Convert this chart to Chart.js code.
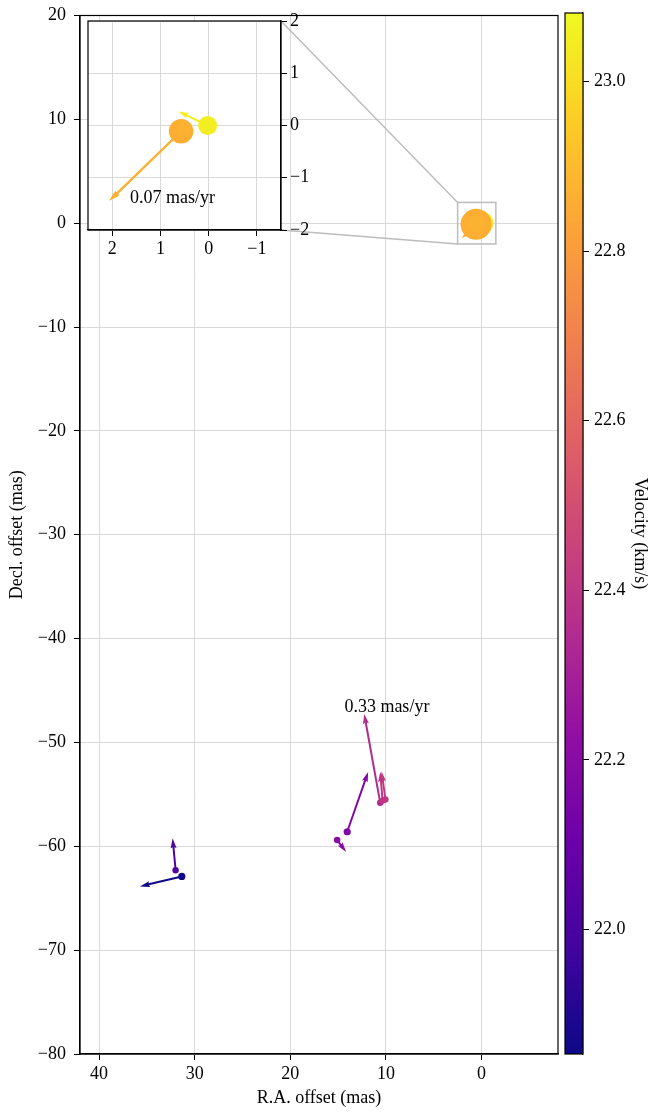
<!DOCTYPE html>
<html>
<head>
<meta charset="utf-8">
<script src="https://cdn.jsdelivr.net/npm/chart.js@4.4.1/dist/chart.umd.min.js"></script>
<style>
body { margin: 0; background: #fff; }
#wrap { position: relative; width: 651px; height: 1113px; }
canvas { position: absolute; left: 0; top: 0; }
</style>
</head>
<body>
<div id="wrap">
    <canvas id="main_chart" width="651" height="1113"></canvas>
    <canvas id="inset_chart" width="651" height="1113"></canvas>
    <canvas id="colorbar" width="651" height="1113"></canvas>
</div>
<script>
/* global Chart */

// maser spots: offsets (mas), velocity (km/s), proper motion arrow (mas on plot), spot radius (px)
const ra_offset = [31.35, 32.0, 14.05, 15.1, 10.6, 10.05, 10.35, 0.02, 0.57, 0.5];
const dec_offset = [-62.9, -62.3, -58.6, -59.4, -55.8, -55.5, -55.6, 0.0, -0.11, -0.05];
const velocity = [21.86, 22.02, 22.18, 22.2, 22.35, 22.41, 22.4, 23.05, 22.86, 22.87];
const arrow_ra = [4.38, 0.31, -2.19, -0.94, 1.67, 0.4, 0.25, 0.6, 1.49, 1.53];
const arrow_dec = [-0.96, 3.07, 5.76, -1.15, 8.55, 2.7, 2.75, 0.27, -1.33, -1.37];
const spot_radius = [3.6, 3.2, 3.6, 3.2, 3.2, 3.2, 3.2, 12, 15.5, 9];

const x_ticks = [40, 30, 20, 10, 0];
const y_ticks = [20, 10, 0, -10, -20, -30, -40, -50, -60, -70, -80];
const inset_x_ticks = [2, 1, 0, -1];
const inset_y_ticks = [2, 1, 0, -1, -2];
const cbar_ticks = [22.0, 22.2, 22.4, 22.6, 22.8, 23.0];

const main_ra_range = [-8, 42];
const main_dec_range = [-80, 20];
const inset_ra_range = [-1.5, 2.5];
const inset_dec_range = [-2, 2];
const vel_range = [21.853, 23.081];

const main_notes = [{ text: "0.33 mas/yr", x: 9.9, y: -46.6 }];
const inset_notes = [{ text: "0.07 mas/yr", x: 0.75, y: -1.4 }];

const FONT = { family: "'Liberation Serif', serif", size: 18 };
const GRID = "#d9d9d9";

const PLASMA = ["#0d0887", "#41049d", "#6a00a8", "#8f0da4", "#b12a90", "#cc4778",
    "#e16462", "#f2844b", "#fca636", "#fcce25", "#f0f921"];

function hexRgb(h) {
    return [1, 3, 5].map(i => parseInt(h.slice(i, i + 2), 16));
}

function plasma(t) {
    t = Math.min(1, Math.max(0, t));
    const p = t * (PLASMA.length - 1);
    const i = Math.min(PLASMA.length - 2, Math.floor(p));
    const f = p - i;
    const a = hexRgb(PLASMA[i]), b = hexRgb(PLASMA[i + 1]);
    const c = a.map((v, k) => Math.round(v + (b[k] - v) * f));
    return `rgb(${c[0]},${c[1]},${c[2]})`;
}

function velColor(v) {
    return plasma((v - vel_range[0]) / (vel_range[1] - vel_range[0]));
}

const spot_colors = velocity.map(velColor);
const spots = ra_offset.map((x, i) => ({ x: x, y: dec_offset[i] }));

function minus(v) {
    return String(v).replace("-", "\u2212");
}

function drawArrow(ctx, x0, y0, x1, y1, w) {
    const dx = x1 - x0, dy = y1 - y0;
    const L = Math.hypot(dx, dy);
    if (L < 0.5) return;
    const ux = dx / L, uy = dy / L, nx = -uy, ny = ux;
    const hl = Math.min(5 * w, L), hal = Math.min(4.5 * w, L), hw = 1.5 * w, sw = w / 2;
    const pt = (s, n) => [x0 + ux * s + nx * n, y0 + uy * s + ny * n];
    const poly = [pt(0, sw), pt(L - hal, sw), pt(L - hl, hw), pt(L, 0),
        pt(L - hl, -hw), pt(L - hal, -sw), pt(0, -sw)];
    ctx.beginPath();
    poly.forEach((p, i) => (i ? ctx.lineTo(p[0], p[1]) : ctx.moveTo(p[0], p[1])));
    ctx.closePath();
    ctx.fill();
}

const arrowsPlugin = {
    id: "arrows",
    beforeDatasetsDraw(chart, args, opts) {
        const { ctx, chartArea: a, scales } = chart;
        ctx.save();
        ctx.beginPath();
        ctx.rect(a.left, a.top, a.right - a.left, a.bottom - a.top);
        ctx.clip();
        ra_offset.forEach((x, i) => {
            ctx.fillStyle = spot_colors[i];
            drawArrow(ctx,
                scales.x.getPixelForValue(x), scales.y.getPixelForValue(dec_offset[i]),
                scales.x.getPixelForValue(x + arrow_ra[i]),
                scales.y.getPixelForValue(dec_offset[i] + arrow_dec[i]), opts.width);
        });
        ctx.restore();
    },
    afterDatasetsDraw(chart, args, opts) {
        const { ctx, scales } = chart;
        ctx.save();
        ctx.font = `${FONT.size}px ${FONT.family}`;
        ctx.fillStyle = "#000";
        ctx.textAlign = "center";
        ctx.textBaseline = "middle";
        (opts.notes || []).forEach(n => {
            ctx.fillText(n.text, scales.x.getPixelForValue(n.x), scales.y.getPixelForValue(n.y));
        });
        ctx.restore();
    },
};

const framePlugin = {
    id: "frame",
    beforeDraw(chart, args, opts) {
        if (!opts.fill) return;
        const { ctx, chartArea: a } = chart;
        ctx.save();
        ctx.fillStyle = opts.fill;
        ctx.fillRect(a.left, a.top, a.right - a.left, a.bottom - a.top);
        ctx.restore();
    },
    afterDraw(chart) {
        const { ctx, chartArea: a } = chart;
        ctx.save();
        ctx.strokeStyle = "#000";
        ctx.lineWidth = 1.2;
        ctx.strokeRect(a.left, a.top, a.right - a.left, a.bottom - a.top);
        ctx.restore();
    },
};

// fixed axis box size, and no extra room for labels hanging over the ends
function fixAxis(size, horizontal) {
    return s => {
        if (horizontal) s.height = size; else s.width = size;
        s.paddingTop = 0;
        s.paddingBottom = 0;
        s.paddingLeft = 0;
        s.paddingRight = 0;
    };
}

function axisOpts(ticks, fitSize, horizontal, title, pad, extra) {
    return Object.assign({
        type: "linear",
        afterBuildTicks: s => { s.ticks = ticks.map(v => ({ value: v })); },
        afterFit: fixAxis(fitSize, horizontal),
        grid: { color: GRID, lineWidth: 1, tickColor: "#000", tickLength: 6 },
        border: { color: "#000", width: 1.2 },
        ticks: { font: FONT, color: "#000", padding: pad, maxRotation: 0, callback: v => minus(v) },
        title: title,
    }, extra);
}

// inset first, so the main chart can connect its zoom box to it
const inset_chart = new Chart(document.getElementById("inset_chart"), {
    type: "scatter",
    data: {
        datasets: [{
            data: spots,
            pointRadius: spot_radius.map(r => r * 0.79),
            pointBackgroundColor: spot_colors,
            pointBorderWidth: 0,
        }],
    },
    options: {
        responsive: false,
        animation: false,
        events: [],
        layout: { padding: { left: 88, right: 330, top: 21, bottom: 853 } },
        plugins: {
            legend: { display: false },
            tooltip: { enabled: false },
            arrows: { width: 2, notes: inset_notes },
            frame: { fill: "#fff" },
        },
        scales: {
            x: axisOpts(inset_x_ticks, 30, true, { display: false }, 2,
                { reverse: true, min: inset_ra_range[0], max: inset_ra_range[1] }),
            y: axisOpts(inset_y_ticks, 40, false, { display: false }, 3,
                { position: "right", min: inset_dec_range[0], max: inset_dec_range[1] }),
        },
    },
    plugins: [framePlugin, arrowsPlugin],
});

const zoomPlugin = {
    id: "zoombox",
    afterDatasetsDraw(chart) {
        const { ctx, scales } = chart;
        const l = scales.x.getPixelForValue(inset_ra_range[1]);
        const r = scales.x.getPixelForValue(inset_ra_range[0]);
        const t = scales.y.getPixelForValue(inset_dec_range[1]);
        const b = scales.y.getPixelForValue(inset_dec_range[0]);
        const ia = inset_chart.chartArea;
        ctx.save();
        ctx.strokeStyle = "#bcbcbc";
        ctx.lineWidth = 1.5;
        ctx.strokeRect(l, t, r - l, b - t);
        ctx.beginPath();
        ctx.moveTo(ia.right, ia.top);
        ctx.lineTo(l, t);
        ctx.moveTo(ia.right, ia.bottom);
        ctx.lineTo(l, b);
        ctx.stroke();
        ctx.restore();
    },
};

new Chart(document.getElementById("main_chart"), {
    type: "scatter",
    data: {
        datasets: [{
            data: spots,
            pointRadius: spot_radius,
            pointBackgroundColor: spot_colors,
            pointBorderWidth: 0,
        }],
    },
    options: {
        responsive: false,
        animation: false,
        events: [],
        layout: { padding: { left: 0, right: 93, top: 13, bottom: 0 } },
        plugins: {
            legend: { display: false },
            tooltip: { enabled: false },
            arrows: { width: 2, notes: main_notes },
        },
        scales: {
            x: axisOpts(x_ticks, 59, true,
                { display: true, text: "R.A. offset (mas)", font: FONT, color: "#000", padding: { top: 0, bottom: 4 } }, 3,
                { reverse: true, min: main_ra_range[0], max: main_ra_range[1] }),
            y: axisOpts(y_ticks, 80, false,
                { display: true, text: "Decl. offset (mas)", font: FONT, color: "#000", padding: { top: 6, bottom: 0 } }, 8,
                { min: main_dec_range[0], max: main_dec_range[1] }),
        },
    },
    plugins: [framePlugin, arrowsPlugin, zoomPlugin],
});

new Chart(document.getElementById("colorbar"), {
    type: "bar",
    data: {
        labels: ["v"],
        datasets: [{
            data: [vel_range],
            barPercentage: 1,
            categoryPercentage: 1,
            borderWidth: 0,
            backgroundColor: c => {
                const { ctx, chartArea } = c.chart;
                if (!chartArea) return null;
                const g = ctx.createLinearGradient(0, chartArea.bottom, 0, chartArea.top);
                for (let i = 0; i <= 40; i++) g.addColorStop(i / 40, plasma(i / 40));
                return g;
            },
        }],
    },
    options: {
        responsive: false,
        animation: false,
        events: [],
        layout: { padding: { left: 565, right: 0, top: 13, bottom: 59 } },
        plugins: { legend: { display: false }, tooltip: { enabled: false } },
        scales: {
            x: { display: false },
            y: axisOpts(cbar_ticks, 68, false,
                { display: true, text: "Velocity (km/s)", font: FONT, color: "#000", padding: { top: 0, bottom: 0 } }, 5,
                {
                    position: "right", min: vel_range[0], max: vel_range[1],
                    grid: { drawOnChartArea: false, tickColor: "#000", tickLength: 6 },
                    ticks: { font: FONT, color: "#000", padding: 5, callback: v => v.toFixed(1) },
                }),
        },
    },
    plugins: [framePlugin],
});
</script>
</body>
</html>
